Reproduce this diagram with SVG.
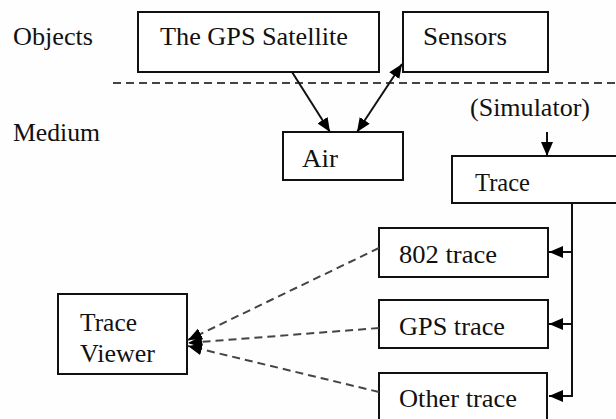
<svg xmlns="http://www.w3.org/2000/svg" width="616" height="419" viewBox="0 0 616 419">
<defs>
<marker id="ah" viewBox="0 0 14 12" refX="14" refY="6" markerWidth="14" markerHeight="12" markerUnits="userSpaceOnUse" orient="auto-start-reverse">
<path d="M0,0 L14,6 L0,12 Z" fill="#000"/>
</marker>
</defs>
<style>
.box{fill:#fff;stroke:#111;stroke-width:2}
.t{font-family:'Liberation Serif','DejaVu Serif',serif;font-size:25px;fill:#111}
.ln{stroke:#111;stroke-width:2;fill:none}
.dash{stroke:#444;stroke-width:2;fill:none;stroke-dasharray:8 5}
</style>
<rect width="616" height="419" fill="#fefefe"/>
<g font-family="Liberation Serif, serif" font-size="25">
<g id="labels">
<text class="t" x="13" y="45" textLength="80" lengthAdjust="spacingAndGlyphs">Objects</text>
<text class="t" x="13" y="141" textLength="87" lengthAdjust="spacingAndGlyphs">Medium</text>
<text class="t" x="470" y="116" textLength="120" lengthAdjust="spacingAndGlyphs">(Simulator)</text>
</g>
<line class="dash" x1="113" y1="83" x2="616" y2="83"/>
<g id="satellite"><rect class="box" x="138" y="12" width="241" height="60"/><text class="t" x="160" y="45" textLength="188" lengthAdjust="spacingAndGlyphs">The GPS Satellite</text></g>
<g id="sensors"><rect class="box" x="403" y="12" width="145" height="60"/><text class="t" x="423" y="45" textLength="84" lengthAdjust="spacingAndGlyphs">Sensors</text></g>
<g id="air"><rect class="box" x="283" y="132" width="120" height="48"/><text class="t" x="302" y="167" textLength="36" lengthAdjust="spacingAndGlyphs">Air</text></g>
<g id="trace"><rect class="box" x="452" y="156" width="180" height="47"/><text class="t" x="475" y="191" textLength="55" lengthAdjust="spacingAndGlyphs">Trace</text></g>
<g id="t802"><rect class="box" x="379" y="228" width="169" height="49"/><text class="t" x="399" y="263" textLength="98" lengthAdjust="spacingAndGlyphs">802 trace</text></g>
<g id="tgps"><rect class="box" x="379" y="300" width="169" height="48"/><text class="t" x="399" y="335" textLength="106" lengthAdjust="spacingAndGlyphs">GPS trace</text></g>
<g id="tother"><rect class="box" x="379" y="373" width="168" height="60"/><text class="t" x="399" y="407" textLength="118" lengthAdjust="spacingAndGlyphs">Other trace</text></g>
<g id="viewer"><rect class="box" x="58" y="294" width="129" height="80"/><text class="t" x="80" y="331" textLength="57" lengthAdjust="spacingAndGlyphs">Trace</text><text class="t" x="80" y="362" textLength="75" lengthAdjust="spacingAndGlyphs">Viewer</text></g>
</g>
<g id="connectors">
<line class="ln" x1="292" y1="72" x2="330" y2="132" marker-end="url(#ah)"/>
<line class="ln" x1="357" y1="132" x2="402" y2="64" marker-start="url(#ah)" marker-end="url(#ah)"/>
<line class="ln" x1="547" y1="132" x2="547" y2="156" marker-end="url(#ah)"/>
<polyline class="ln" points="572,203 572,396 549,396" marker-end="url(#ah)"/>
<line class="ln" x1="572" y1="252" x2="549" y2="252" marker-end="url(#ah)"/>
<line class="ln" x1="572" y1="324" x2="549" y2="324" marker-end="url(#ah)"/>
<line class="dash" x1="379" y1="248" x2="188" y2="340" marker-end="url(#ah)"/>
<line class="dash" x1="379" y1="328" x2="188" y2="343" marker-end="url(#ah)"/>
<line class="dash" x1="379" y1="392" x2="188" y2="346" marker-end="url(#ah)"/>
</g>
</svg>
